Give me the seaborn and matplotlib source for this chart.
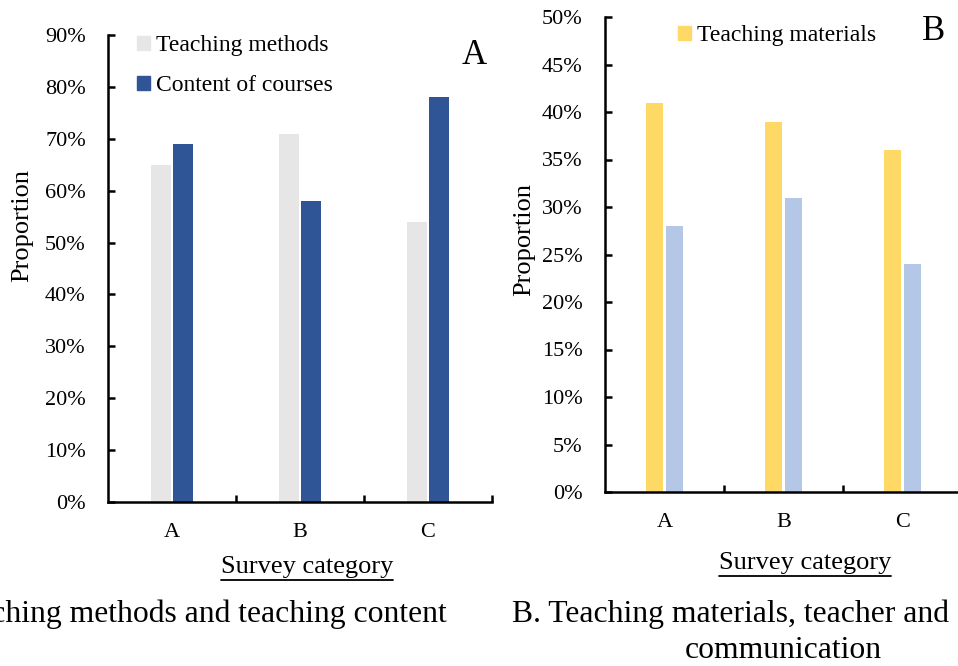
import matplotlib
matplotlib.use("Agg")
import matplotlib.pyplot as plt
import seaborn as sns
import pandas as pd
from matplotlib.ticker import PercentFormatter, FixedLocator
from matplotlib.patches import Patch
from matplotlib.lines import Line2D

# ---- data -------------------------------------------------------------
categories = ["A", "B", "C"]

left_series = ["Teaching methods", "Content of courses"]
teaching_methods = [0.65, 0.71, 0.54]
content_of_courses = [0.69, 0.58, 0.78]
left_ticks = [0.0, 0.1, 0.2, 0.3, 0.4, 0.5, 0.6, 0.7, 0.8, 0.9]

right_series = ["Teaching materials", "Teacher and student communication"]
teaching_materials = [0.41, 0.39, 0.36]
teacher_student_comm = [0.28, 0.31, 0.24]
right_ticks = [0.0, 0.05, 0.10, 0.15, 0.20, 0.25, 0.30, 0.35, 0.40, 0.45, 0.50]

left_colors = ["#E7E6E6", "#2F5597"]
right_colors = ["#FFD966", "#B4C7E7"]

# ---- style ------------------------------------------------------------
sns.set_style("ticks")
plt.rcParams["font.family"] = ["Liberation Serif", "DejaVu Serif"]
plt.rcParams["text.color"] = "black"
plt.rcParams["axes.labelcolor"] = "black"
plt.rcParams["xtick.color"] = "black"
plt.rcParams["ytick.color"] = "black"
plt.rcParams["axes.edgecolor"] = "black"

W, H = 958, 666
fig = plt.figure(figsize=(W / 100, H / 100), dpi=100)


def fx(x):
    return x / W


def fy(y):
    return 1 - y / H


def box(x0, y0, x1, y1):
    return [x0 / W, 1 - y1 / H, (x1 - x0) / W, (y1 - y0) / H]


def long_form(names, first, second):
    return pd.DataFrame({
        "category": categories * 2,
        "series": [names[0]] * len(categories) + [names[1]] * len(categories),
        "value": list(first) + list(second),
    })


ax1 = fig.add_axes(box(108, 35, 492, 502))
ax2 = fig.add_axes(box(605, 17, 962, 492))

df_left = long_form(left_series, teaching_methods, content_of_courses)
df_right = long_form(right_series, teaching_materials, teacher_student_comm)

sns.barplot(data=df_left, x="category", y="value", hue="series",
            hue_order=left_series, palette=left_colors, saturation=1,
            width=0.34, gap=0.08, linewidth=0, errorbar=None,
            legend=False, ax=ax1)
sns.barplot(data=df_right, x="category", y="value", hue="series",
            hue_order=right_series, palette=right_colors, saturation=1,
            width=0.33, gap=0.12, linewidth=0, errorbar=None,
            legend=False, ax=ax2)


def style_axes(ax, ticks):
    ax.set_xlim(-0.5, 2.5)
    ax.set_ylim(0, ticks[-1])
    ax.set_yticks(ticks)
    ax.yaxis.set_major_formatter(PercentFormatter(1, decimals=0))
    ax.xaxis.set_minor_locator(FixedLocator([0.5, 1.5, 2.5]))
    ax.tick_params(axis="y", direction="in", length=5, width=1.8,
                   labelsize=16, pad=16)
    ax.tick_params(axis="x", which="major", length=0, labelsize=16, pad=15)
    ax.tick_params(axis="x", which="minor", direction="in", length=5, width=1.8)
    for s in ("top", "right"):
        ax.spines[s].set_visible(False)
    for s in ("left", "bottom"):
        ax.spines[s].set_linewidth(1.8)
    ax.set_ylabel("Proportion", fontsize=19)
    ax.set_xlabel("Survey category", fontsize=19)
    ax.xaxis.label.set_va("center")
    ax.yaxis.label.set_va("center")


style_axes(ax1, left_ticks)
style_axes(ax2, right_ticks)

# label placement (axes coordinates)
ax1.yaxis.set_label_coords((22 - 108) / 384, (502 - 225) / 467)
ax2.yaxis.set_label_coords((524 - 605) / 357, (492 - 240) / 475)
LEFT_XLABEL_Y, RIGHT_XLABEL_Y = 567, 563
ax1.xaxis.set_label_coords((307 - 108) / 384, (502 - LEFT_XLABEL_Y) / 467)
ax2.xaxis.set_label_coords((805 - 605) / 357, (492 - RIGHT_XLABEL_Y) / 475)

# legends
leg_kw = dict(frameon=False, fontsize=17, handlelength=0.55, handleheight=0.55,
              handletextpad=0.25, labelspacing=0.82, borderpad=0,
              borderaxespad=0, loc="upper left", bbox_transform=fig.transFigure)
ax1.legend(handles=[Patch(color=c, label=l) for c, l in zip(left_colors, left_series)],
           bbox_to_anchor=(fx(137), fy(35)), **leg_kw)
ax2.legend(handles=[Patch(color=right_colors[0], label=right_series[0])],
           bbox_to_anchor=(fx(678), fy(25)), **leg_kw)

# panel letters
fig.text(fx(474), fy(56), "A", fontsize=25, ha="center", va="center")
fig.text(fx(934), fy(31), "B", fontsize=25, ha="center", va="center")

# captions
fig.text(fx(447), fy(614), "A. Teaching methods and teaching content",
         fontsize=22.8, ha="right", va="center")
fig.text(fx(512), fy(614), "B. Teaching materials, teacher and",
         fontsize=22.8, ha="left", va="center")
fig.text(fx(783), fy(651), "communication",
         fontsize=22.8, ha="center", va="center")

# underline the x-axis titles
fig.canvas.draw()
renderer = fig.canvas.get_renderer()
for ax, yc in ((ax1, LEFT_XLABEL_Y), (ax2, RIGHT_XLABEL_Y)):
    bb = ax.xaxis.label.get_window_extent(renderer)
    fig.add_artist(Line2D([bb.x0 / W, bb.x1 / W], [fy(yc + 13), fy(yc + 13)],
                          transform=fig.transFigure, color="black", lw=1.3))

fig.savefig("out.png", dpi=100)
